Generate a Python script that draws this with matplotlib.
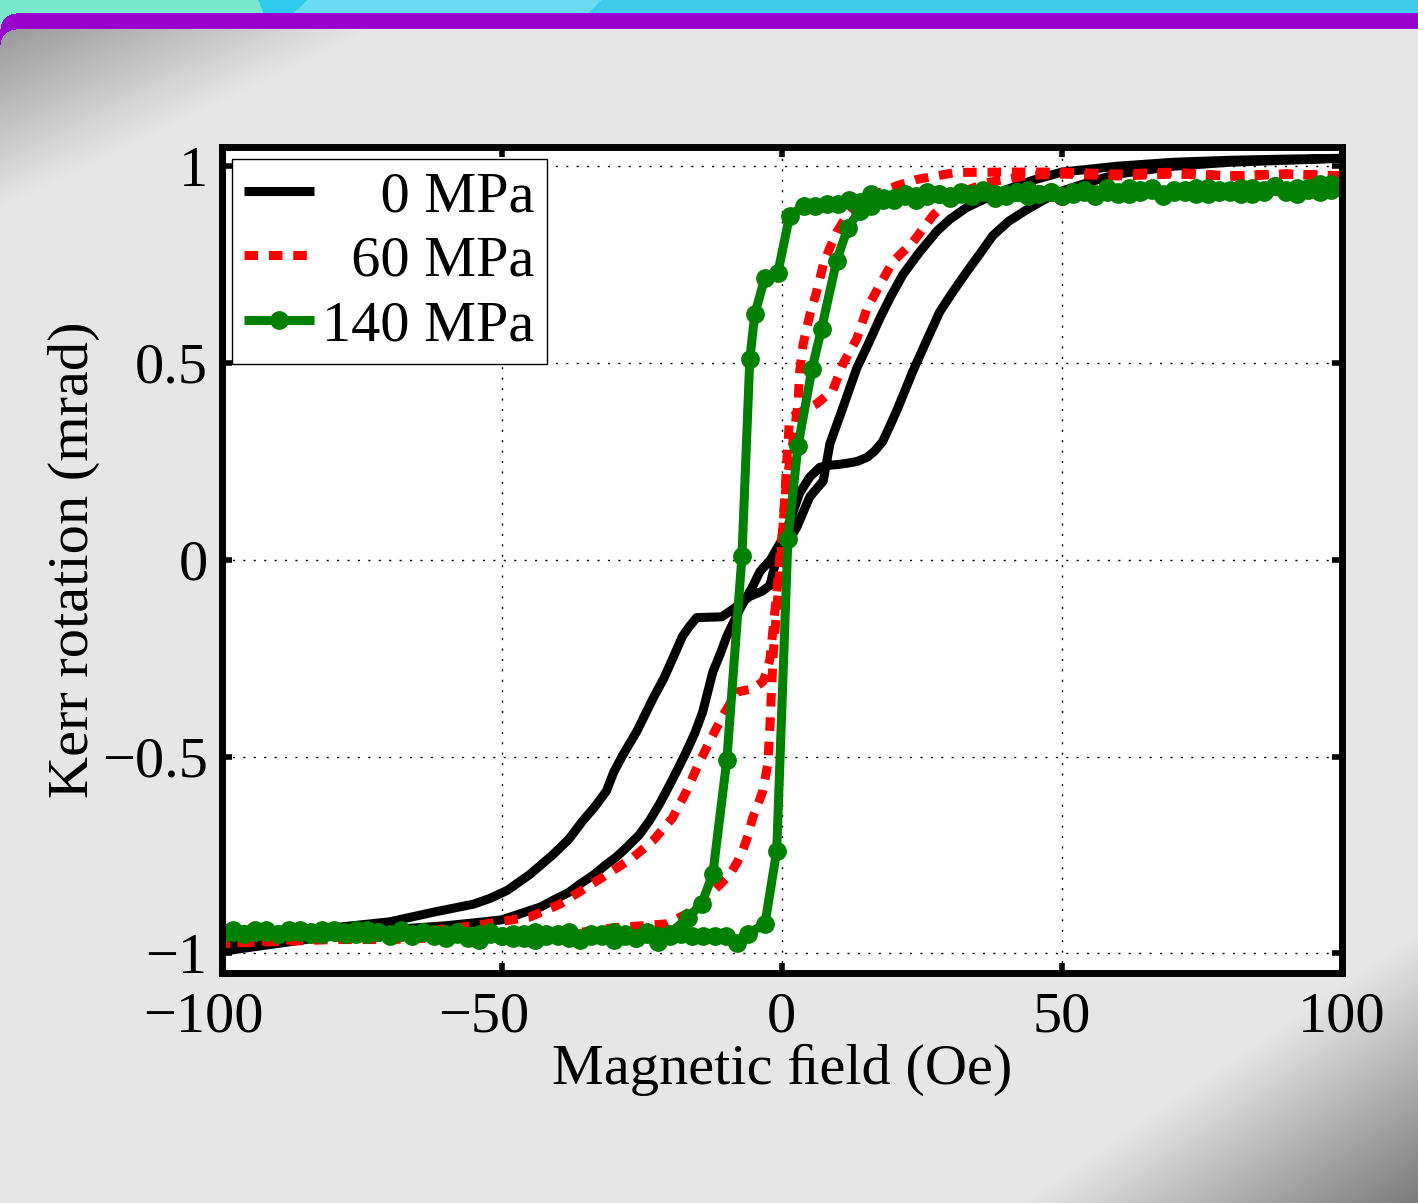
import numpy as np
import matplotlib
matplotlib.use("Agg")
import matplotlib.pyplot as plt
import matplotlib.transforms as mtransforms

plt.rcParams['font.family'] = ['Liberation Serif', 'DejaVu Serif']

# Messwerte: Kerr-Drehung (mrad) gegen Magnetfeld (Oe), je Ast abgelesen
# 0 MPa, Feld abwaerts
black_down_x = [100, 90, 80, 70, 60, 50, 45, 40, 36, 33, 30, 27.7, 24.5, 21.6, 19.5, 17.5,
                15.5, 13.4, 10.9, 8.6, 7.4, 5, 2.7, 0.5, -1.0, -2.1, -3.5, -5.7, -8.75, -10.7, -13, -15.2,
                -16.5, -17.7, -19.5, -21, -23, -25.9, -28.4, -30, -31.3, -33.5, -35.5, -38, -40.9, -45, -49, -52,
                -55, -62, -70, -80, -90, -100]
black_down_y = [1.02, 1.018, 1.015, 1.01, 1.0, 0.985, 0.965, 0.94, 0.915, 0.895, 0.865, 0.835, 0.78, 0.724, 0.67, 0.613,
                0.55, 0.487, 0.386, 0.295, 0.2, 0.16, 0.083, 0.03, 0.0, -0.065, -0.08, -0.093, -0.126, -0.145, -0.146, -0.147,
                -0.17, -0.194, -0.252, -0.3, -0.353, -0.437, -0.497, -0.54, -0.588, -0.63, -0.663, -0.71, -0.75, -0.80, -0.84, -0.86,
                -0.875, -0.895, -0.92, -0.935, -0.955, -0.985]
# 0 MPa, Feld aufwaerts
black_up_x = [-100, -90, -80, -70, -60, -54.5, -50, -46.8, -43, -40.9, -38, -36, -33.5, -31.3, -29.5, -27.7,
              -25.5, -23.6, -21.8, -20, -18.5, -17, -15.5, -14.1, -12.3, -11, -9.8, -7.5, -5.2, -3.9, -2, 0,
              1.5, 3.2, 5, 6.8, 8.5, 10, 11.6, 13.5, 15.2, 16.5, 18, 19.3, 20.5, 22, 23.4, 25.8,
              28.2, 30.5, 33, 35.5, 37.7, 40.5, 43.8, 46.5, 49.6, 55, 60, 70, 80, 90, 100]
black_up_y = [-0.995, -0.975, -0.955, -0.94, -0.93, -0.922, -0.915, -0.9, -0.882, -0.866, -0.845, -0.824, -0.8, -0.774, -0.755, -0.731,
              -0.7, -0.663, -0.62, -0.572, -0.53, -0.487, -0.44, -0.386, -0.285, -0.24, -0.194, -0.126, -0.068, -0.03, 0.0, 0.05,
              0.1, 0.17, 0.21, 0.235, 0.24, 0.242, 0.245, 0.25, 0.26, 0.275, 0.30, 0.34, 0.378, 0.43, 0.479, 0.555,
              0.63, 0.68, 0.731, 0.78, 0.824, 0.86, 0.89, 0.912, 0.935, 0.96, 0.98, 1.0, 1.01, 1.015, 1.02]

# 60 MPa
red_down_x = [100, 90, 80, 70, 60, 50, 40, 31, 27.5, 24, 20.5, 17.5, 15, 12.7, 11, 9.8,
              8.5, 7.4, 6.2, 5, 3.8, 3.2, 2.9, 2, 0.8, 0.2, -0.4, -0.9, -1.5, -2.1, -2.8, -3.4,
              -5.2, -8, -10.5, -12.9, -15.2, -17, -19.5, -23, -26.6, -32, -39.6, -45, -55, -65, -80, -100]
red_down_y = [0.975, 0.98, 0.975, 0.985, 0.98, 0.985, 0.985, 0.984, 0.975, 0.966, 0.95, 0.933, 0.912, 0.89, 0.86, 0.832,
              0.79, 0.749, 0.68, 0.622, 0.547, 0.479, 0.396, 0.30, 0.194, 0.083, 0.0, -0.084, -0.168, -0.252, -0.29, -0.31,
              -0.328, -0.336, -0.396, -0.462, -0.53, -0.588, -0.656, -0.714, -0.757, -0.807, -0.875, -0.908, -0.93, -0.945, -0.96, -0.975]
red_up_x = [-100, -90, -80, -70, -60, -50, -40, -35, -30, -25, -20.5, -17, -15, -12.9, -11, -9.3,
            -8, -7, -6, -5.2, -4.2, -3.4, -2.5, -2.1, -1.8, -1.5, -0.9, -0.4, 0.3, 0.9, 1.4, 4,
            6.2, 9.1, 10.9, 13.4, 15.2, 17.5, 19.8, 23.4, 27, 30.5, 36.6, 43.8, 50, 60, 70, 80, 90, 100]
red_up_y = [-0.975, -0.97, -0.965, -0.965, -0.96, -0.955, -0.95, -0.945, -0.935, -0.93, -0.925, -0.9, -0.88, -0.85, -0.825, -0.8,
            -0.77, -0.74, -0.7, -0.656, -0.62, -0.588, -0.52, -0.42, -0.32, -0.235, -0.126, -0.043, 0.1, 0.25, 0.36, 0.38,
            0.396, 0.43, 0.497, 0.562, 0.638, 0.698, 0.757, 0.807, 0.875, 0.925, 0.958, 0.976, 0.98, 0.975, 0.98, 0.975, 0.98, 0.975]

# 140 MPa (Messpunkte)
green_down_x = [100, 98, 96, 94, 92, 90, 88, 86, 84, 82, 80, 78, 76, 74, 72, 70, 68, 66, 64, 62,
                60, 58, 56, 54, 52, 50, 48, 46, 44, 42, 40, 38, 36, 34, 32, 30, 28, 26, 24, 22,
                20, 18, 16, 14, 12, 10, 8, 6, 4,
                1.4, -0.7, -3, -4.8, -5.7, -7.1, -9.8, -12.3, -14.3, -16.8,
                -20, -22, -24, -26, -28, -30, -32, -34, -36, -38, -40, -42, -44, -46, -48, -50, -52, -54, -56, -58,
                -60, -62, -64, -66, -68, -70, -72, -74, -76, -78, -80, -82, -84, -86, -88, -90, -92, -94, -96, -98, -100]
green_down_y = [0.95, 0.94, 0.955, 0.945, 0.93, 0.94, 0.95, 0.935, 0.945, 0.93, 0.94, 0.935, 0.945, 0.93, 0.94, 0.935, 0.925, 0.94, 0.935, 0.945,
                0.93, 0.935, 0.925, 0.935, 0.93, 0.925, 0.935, 0.93, 0.925, 0.935, 0.93, 0.92, 0.935, 0.925, 0.93, 0.92, 0.93, 0.925, 0.915, 0.925,
                0.915, 0.92, 0.93, 0.91, 0.915, 0.905, 0.905, 0.9, 0.9,
                0.874, 0.729, 0.717, 0.625, 0.511, 0.01, -0.508, -0.798, -0.874, -0.91,
                -0.95, -0.955, -0.945, -0.96, -0.95, -0.945, -0.955, -0.95, -0.96, -0.945, -0.955, -0.95, -0.945, -0.96, -0.95, -0.955, -0.945, -0.95, -0.96, -0.945,
                -0.95, -0.955, -0.945, -0.95, -0.94, -0.955, -0.945, -0.95, -0.94, -0.95, -0.945, -0.94, -0.95, -0.945, -0.94, -0.95, -0.945, -0.94, -0.95, -0.945, -0.95]
green_up_x = [-100, -98, -96, -94, -92, -90, -88, -86, -84, -82, -80, -78, -76, -74, -72, -70, -68, -66, -64, -62,
              -60, -58, -56, -54, -52, -50, -48, -46, -44, -42, -40, -38, -36, -34, -32, -30, -28, -26, -24, -22,
              -20, -18, -16, -14, -12, -10, -8, -6,
              -3, -0.9, 1.1, 2.9, 5.4, 7.1, 9.8, 11.8, 13.9,
              16, 18, 20, 22, 24, 26, 28, 30, 32, 34, 36, 38, 40, 42, 44, 46, 48, 50, 52, 54,
              56, 58, 60, 62, 64, 66, 68, 70, 72, 74, 76, 78, 80, 82, 84, 86, 88, 90, 92, 94, 96, 98, 100]
green_up_y = [-0.945, -0.94, -0.95, -0.945, -0.94, -0.95, -0.945, -0.94, -0.945, -0.95, -0.94, -0.945, -0.95, -0.94, -0.945, -0.95, -0.945, -0.955, -0.945, -0.95,
              -0.96, -0.95, -0.955, -0.965, -0.95, -0.955, -0.96, -0.95, -0.965, -0.955, -0.95, -0.96, -0.965, -0.955, -0.95, -0.965, -0.955, -0.96, -0.95, -0.97,
              -0.955, -0.95, -0.955, -0.955, -0.955, -0.955, -0.975, -0.95,
              -0.925, -0.74, 0.053, 0.29, 0.485, 0.587, 0.76, 0.844, 0.887,
              0.9, 0.915, 0.92, 0.93, 0.925, 0.935, 0.93, 0.925, 0.935, 0.93, 0.94, 0.93, 0.925, 0.935, 0.94, 0.93, 0.935, 0.925, 0.935, 0.94,
              0.93, 0.945, 0.935, 0.93, 0.94, 0.945, 0.93, 0.94, 0.935, 0.945, 0.93, 0.94, 0.935, 0.945, 0.93, 0.94, 0.95, 0.935, 0.945, 0.94, 0.935, 0.955, 0.945]

# Legendenbeschriftung, mit Ziffernleerzeichen rechtsbuendig
labels = ["\u2007\u20070 MPa", "\u200760 MPa", "140 MPa"]
xticks = [-100, -50, 0, 50, 100]
xticklabels = ["\u2212100", "\u221250", "0", "50", "100"]
yticks = [-1, -0.5, 0, 0.5, 1]
yticklabels = ["\u22121", "\u22120.5", "0", "0.5", "1"]

# Hintergrund der Folie (Streifen oben, lila Balken, grauer Verlauf)
H, W = 1203, 1418
yy, xx = np.mgrid[0:H, 0:W].astype(float)
v = np.full((H, W), 0.902)
s1 = yy + 0.48 * xx
v = np.minimum(v, np.clip(0.6 + 0.302 * (s1 - 29) / 178, 0.6, 0.902))
s2 = yy + 0.68 * xx
v = np.minimum(v, np.clip(0.902 - 0.42 * (s2 - 1897) / 270, 0.45, 0.902))
img = np.dstack([v, v, v])

mint = (0.47, 0.91, 0.80)
cyan_dark = (0.19, 0.80, 0.93)
cyan_light = (0.42, 0.86, 0.96)
cyan = (0.24, 0.80, 0.93)
purple = (0.6, 0.0, 0.8)
top = yy < 13
b1 = 258 + 0.4 * yy
b2 = 307 - 1.1 * yy
b3 = 601 - 1.0 * yy
img[top & (xx < b1)] = mint
img[top & (xx >= b1) & (xx < b2)] = cyan_dark
img[top & (xx >= b2) & (xx < b3)] = cyan_light
img[top & (xx >= b3)] = cyan
band = (yy >= 13) & (yy < 29)
img[band] = purple
img[band & (xx < 16) & ((xx - 16) ** 2 + (yy - 29) ** 2 > 16 ** 2)] = mint
corner = (yy >= 29) & (yy < 45) & (xx < 16) & ((xx - 16) ** 2 + (yy - 45) ** 2 > 16 ** 2)
img[corner] = purple

fig = plt.figure(figsize=(14.18, 12.03), dpi=100)
bg = fig.add_axes([0, 0, 1, 1])
bg.imshow(img, aspect='auto', interpolation='bilinear')
bg.axis('off')

ax = fig.add_axes([221.5 / W, 1 - 973 / H, (1342 - 221.5) / W, (973 - 146.5) / H])
ax.set_facecolor('white')

ax.plot(black_down_x + black_up_x, black_down_y + black_up_y, color='black', lw=6.5,
        solid_capstyle='butt', label=labels[0])
ax.plot(red_down_x + red_up_x, red_down_y + red_up_y, color='red', lw=6.5,
        dashes=(1.5, 1.2), dash_capstyle='butt', label=labels[1])
ax.plot(green_down_x + green_up_x, green_down_y + green_up_y, color='#008000', lw=6.5,
        solid_capstyle='butt', marker='o', ms=12.5, label=labels[2])

ax.set_xlim(-100, 100)
ax.set_ylim(-1.05, 1.05)
ax.set_xticks(xticks)
ax.set_xticklabels(xticklabels)
ax.set_yticks(yticks)
ax.set_yticklabels(yticklabels)
ax.set_axisbelow(True)
ax.grid(True, color='black', linestyle=(0, (1.5, 6)), linewidth=1.0)
for sp in ax.spines.values():
    sp.set_linewidth(5)
ax.tick_params(direction='in', length=7.5, width=4, top=True, right=True, labelsize=42)
ax.tick_params(axis='x', pad=13)
ax.tick_params(axis='y', pad=10)

# negative Beschriftungen wie im Original etwas nach links
shift = mtransforms.ScaledTranslation(-18 / 100, 0, fig.dpi_scale_trans)
for lab in ax.get_xticklabels()[:2]:
    lab.set_transform(lab.get_transform() + shift)

ax.set_xlabel("Magnetic \ufb01eld (Oe)", fontsize=42)
ax.set_ylabel("Kerr rotation (mrad)", fontsize=42)
ax.xaxis.set_label_coords(0.5, -0.085)
ax.yaxis.set_label_coords(-0.108, 0.5)

leg = ax.legend(loc='upper left', bbox_to_anchor=(0.0094, 0.985), fontsize=42, handlelength=1.2,
                handletextpad=0.15, labelspacing=0.2, borderpad=0.2, borderaxespad=0,
                fancybox=False, edgecolor='black', framealpha=1)
leg.get_frame().set_linewidth(1.0)

plt.savefig("out.png", dpi=100)
